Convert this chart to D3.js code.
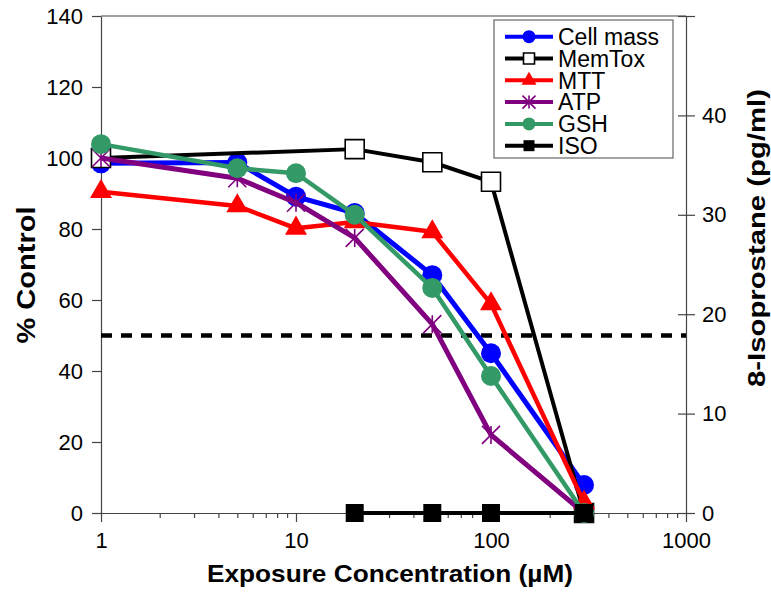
<!DOCTYPE html>
<html>
<head>
<meta charset="utf-8">
<script src="https://cdn.jsdelivr.net/npm/d3@7"></script>
<style>
    body { margin: 0; background: #fff; }
    svg { font-family: "Liberation Sans", Arial, sans-serif; }
</style>
</head>
<body>
<svg id="chart" width="771" height="593"></svg>
<script>
// exposure concentrations (uM)
const concentrations = [1, 5, 10, 20, 50, 100, 300];
const memToxConc = [1, 20, 50, 100, 300];
const isoConc = [20, 50, 100, 300];

// % control values
const cellMass = [98.5, 98.7, 89.1, 84.5, 67.0, 45.0, 7.9];
const memTox = [100, 102.5, 98.8, 93.3, 0];
const mtt = [90.5, 86.5, 80.2, 82.0, 79.2, 58.9, 3.0];
const atp = [100, 94.3, 87.4, 77.5, 53.2, 22.0, 0];
const gsh = [103.9, 97.1, 95.7, 84.0, 63.4, 38.6, 0];

// 8-isoprostane (pg/ml), right axis
const iso = [0, 0, 0, 0];

const leftTicks = [0, 20, 40, 60, 80, 100, 120, 140];
const rightTicks = [0, 10, 20, 30, 40, 50];
const xMajor = [1, 10, 100, 1000];
const xMinor = [2, 3, 4, 5, 6, 7, 8, 9, 20, 30, 40, 50, 60, 70, 80, 90, 200, 300, 400, 500, 600, 700, 800, 900];
const halfLine = 50;

class DoseChart {

    constructor (svgId) {
        this.svg = d3.select(svgId);
        this.x = d3.scaleLog().domain([1, 1000]).range([101, 686]);
        this.yLeft = d3.scaleLinear().domain([0, 140]).range([513, 16]);
        this.yRight = d3.scaleLinear().domain([0, 50]).range([513, 16]);

        let pairs = (xs, ys) => xs.map((c, i) => ({c: c, v: ys[i]}));
        this.series = [
            {name: 'Cell mass', data: pairs(concentrations, cellMass), color: '#0000ff', marker: 'circle', width: 5, right: false},
            {name: 'MemTox', data: pairs(memToxConc, memTox), color: '#000000', marker: 'openSquare', width: 4, right: false},
            {name: 'MTT', data: pairs(concentrations, mtt), color: '#ff0000', marker: 'triangle', width: 4.5, right: false},
            {name: 'ATP', data: pairs(concentrations, atp), color: '#800080', marker: 'asterisk', width: 5, right: false},
            {name: 'GSH', data: pairs(concentrations, gsh), color: '#339966', marker: 'circle', width: 4.5, right: false},
            {name: 'ISO', data: pairs(isoConc, iso), color: '#000000', marker: 'square', width: 4, right: true}
        ];
    }

    drawAxes () {
        let that = this;
        let axisColor = '#444';

        // top frame line
        this.svg.append('line')
            .attr('x1', this.x(1)).attr('x2', this.x(1000))
            .attr('y1', this.yLeft(140)).attr('y2', this.yLeft(140))
            .attr('stroke', axisColor).attr('stroke-width', 1.2);

        let left = this.svg.append('g')
            .attr('transform', `translate(${this.x(1)},0)`)
            .call(d3.axisLeft(this.yLeft).tickValues(leftTicks).tickSize(9).tickSizeOuter(0).tickPadding(9));

        let right = this.svg.append('g')
            .attr('transform', `translate(${this.x(1000)},0)`)
            .call(d3.axisRight(this.yRight).tickValues(rightTicks).tickSize(9).tickSizeOuter(0).tickPadding(7)
                .tickFormat(d => d == 50 ? '' : d));
        right.selectAll('.tick line').attr('x1', -8);

        let bottomMinor = this.svg.append('g')
            .attr('transform', `translate(0,${this.yLeft(0)})`)
            .call(d3.axisBottom(this.x).tickValues(xMinor).tickSize(5).tickSizeOuter(0).tickFormat(''));

        let bottom = this.svg.append('g')
            .attr('transform', `translate(0,${this.yLeft(0)})`)
            .call(d3.axisBottom(this.x).tickValues(xMajor).tickSize(9).tickSizeOuter(0).tickPadding(10)
                .tickFormat(d3.format('d')));

        [left, right, bottomMinor, bottom].forEach(g => {
            g.select('.domain').attr('stroke', axisColor).attr('stroke-width', 1.2);
            g.selectAll('.tick line').attr('stroke', axisColor).attr('stroke-width', 1.2);
            g.selectAll('text')
                .attr('font-size', 22)
                .attr('font-family', '"Liberation Sans", Arial, sans-serif')
                .attr('fill', '#000');
        });

        // axis titles
        this.svg.append('text')
            .attr('x', 390).attr('y', 582)
            .attr('text-anchor', 'middle')
            .attr('font-size', 24).attr('font-weight', 'bold')
            .attr('textLength', 366).attr('lengthAdjust', 'spacingAndGlyphs')
            .text('Exposure Concentration (µM)');

        this.svg.append('text')
            .attr('transform', 'translate(35,275) rotate(-90)')
            .attr('text-anchor', 'middle')
            .attr('font-size', 25).attr('font-weight', 'bold')
            .attr('textLength', 137).attr('lengthAdjust', 'spacingAndGlyphs')
            .text('% Control');

        this.svg.append('text')
            .attr('transform', 'translate(765,238) rotate(-90)')
            .attr('text-anchor', 'middle')
            .attr('font-size', 24).attr('font-weight', 'bold')
            .attr('textLength', 298).attr('lengthAdjust', 'spacingAndGlyphs')
            .text('8-Isoprostane (pg/ml)');

        // 50% reference line
        this.svg.append('line')
            .attr('x1', this.x(1)).attr('x2', this.x(1000))
            .attr('y1', that.yLeft(halfLine)).attr('y2', that.yLeft(halfLine))
            .attr('stroke', '#000').attr('stroke-width', 4.5)
            .attr('stroke-dasharray', '11,9');
    }

    markerPath (type, s) {
        if (type == 'asterisk') {
            let r = s / 2;
            return `M0,${-r}L0,${r}M${-r},${-r}L${r},${r}M${-r},${r}L${r},${-r}`;
        }
        if (type == 'triangle') {
            return d3.symbol().type(d3.symbolTriangle).size(s * s * Math.sqrt(3) / 4)();
        }
        if (type == 'circle') {
            return d3.symbol().type(d3.symbolCircle).size(Math.PI * s * s / 4)();
        }
        return d3.symbol().type(d3.symbolSquare).size(s * s)();
    }

    styleMarker (sel, d) {
        if (d.marker == 'asterisk') {
            sel.attr('fill', 'none').attr('stroke', d.color).attr('stroke-width', 1.6);
        } else if (d.marker == 'openSquare') {
            sel.attr('fill', '#fff').attr('stroke', '#000').attr('stroke-width', 1.6);
        } else {
            sel.attr('fill', d.color).attr('stroke', 'none');
        }
    }

    drawSeries () {
        let that = this;
        let sizes = {circle: 20, openSquare: 19, square: 18, triangle: 22, asterisk: 18};

        this.series.forEach(s => {
            let y = s.right ? that.yRight : that.yLeft;
            let line = d3.line().x(d => that.x(d.c)).y(d => y(d.v));
            let g = that.svg.append('g');

            g.append('path')
                .datum(s.data)
                .attr('d', line)
                .attr('fill', 'none')
                .attr('stroke', s.color)
                .attr('stroke-width', s.width)
                .attr('stroke-linejoin', 'round');

            g.selectAll('path.marker')
                .data(s.data)
                .enter()
                .append('path')
                .classed('marker', true)
                .attr('transform', d => `translate(${that.x(d.c)},${y(d.v)})`)
                .attr('d', that.markerPath(s.marker, sizes[s.marker]))
                .call(sel => that.styleMarker(sel, s));
        });
    }

    drawLegend () {
        let that = this;
        let sizes = {circle: 13, openSquare: 11, square: 11, triangle: 15, asterisk: 13};

        let legend = this.svg.append('g');
        legend.append('rect')
            .attr('x', 494).attr('y', 20)
            .attr('width', 179).attr('height', 138)
            .attr('fill', '#fff')
            .attr('stroke', '#666').attr('stroke-width', 1.2);

        let rows = legend.selectAll('g.row')
            .data(this.series)
            .enter()
            .append('g')
            .classed('row', true)
            .attr('transform', (d, i) => `translate(0,${36.7 + i * 21.8})`);

        rows.append('line')
            .attr('x1', 505).attr('x2', 553)
            .attr('stroke', d => d.color)
            .attr('stroke-width', 4);

        rows.append('path')
            .attr('transform', 'translate(529,0)')
            .attr('d', d => that.markerPath(d.marker, sizes[d.marker]))
            .each(function(d) { that.styleMarker(d3.select(this), d); });

        rows.append('text')
            .attr('x', 558).attr('y', 0)
            .attr('dy', '0.36em')
            .attr('font-size', 23)
            .text(d => d.name);
    }
}

let chart = new DoseChart('#chart');
chart.drawAxes();
chart.drawSeries();
chart.drawLegend();
</script>
</body>
</html>
